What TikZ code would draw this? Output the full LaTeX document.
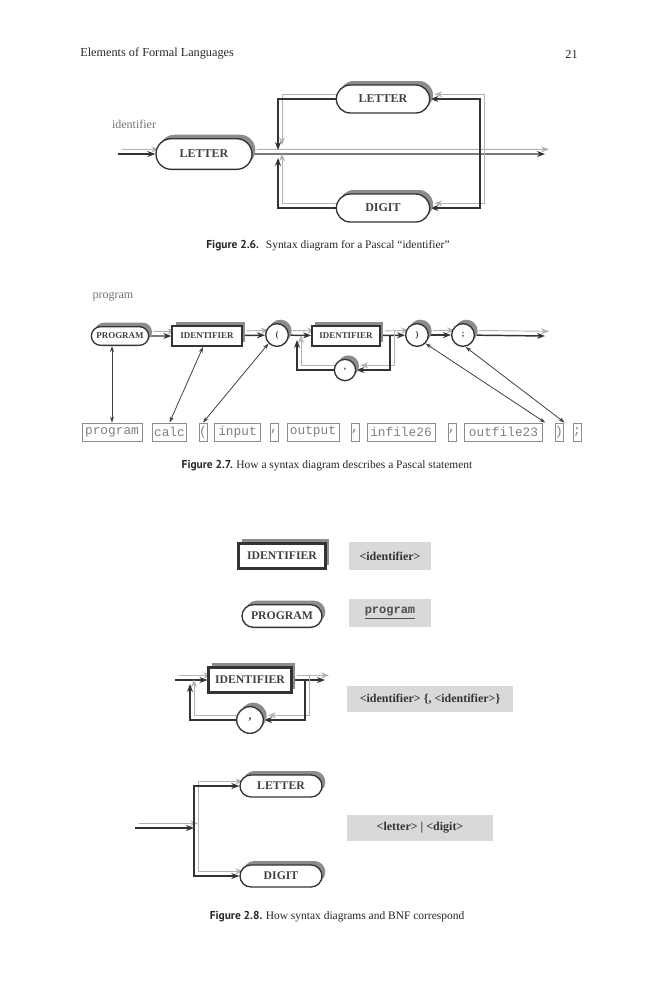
\documentclass[tikz,border=0pt]{standalone}
\usepackage{fontspec}
\setmainfont{Liberation Serif}
\setmonofont{Liberation Mono}
\newfontfamily\capfont{PT Sans}
\usetikzlibrary{shapes.misc, shadows, arrows.meta, backgrounds}

\tikzset{
  lbl/.style={font=\bfseries\fontsize{#1}{#1}\selectfont, text=black!75},
  shd/.style={drop shadow={shadow xshift=2.5pt, shadow yshift=3pt, fill=black!45, opacity=1}},
  rnd/.style={rounded rectangle, draw=black!80, line width=1pt, fill=white, shd, inner sep=0pt},
  idbox/.style={rectangle, draw=black!80, line width=1.8pt, fill=white, shd, inner sep=0pt},
  crc/.style={circle, draw=black!80, line width=1pt, fill=white, shd, inner sep=0pt},
  codebox/.style={rectangle, draw=black!45, line width=0.6pt, text=black!50,
    font=\ttfamily\fontsize{9.6}{10}\selectfont, minimum height=13.5pt, inner sep=0pt},
  bnf/.style={rectangle, fill=black!15, inner sep=0pt, font=\bfseries\fontsize{9}{10}\selectfont, text=black!80},
  ln/.style={draw=black!80, line width=1.1pt, -{Stealth[length=6pt, width=4.5pt]},
    preaction={draw=black!30, line width=0.7pt, transform canvas={xshift=3pt, yshift=3.5pt}}},
  ptr/.style={draw=black!75, line width=0.6pt, {Stealth[length=4.5pt, width=3pt]}-{Stealth[length=4.5pt, width=3pt]}},
  captext/.style={font=\fontsize{8.6}{10}\selectfont, text=black!85, inner sep=0pt},
}

\begin{document}
\begin{tikzpicture}[x=0.75pt, y=-0.75pt]
  \useasboundingbox (0,0) rectangle (659,1000);

  % running head
  \node[captext, anchor=west, font=\fontsize{9.2}{10}\selectfont] (head) at (80,54) {Elements of Formal Languages};
  \node[captext, anchor=east, font=\fontsize{9.2}{10}\selectfont] (page) at (578,54) {21};

  % ---- Figure 2.6
  \node[captext, text=black!55, font=\fontsize{9}{10}\selectfont] (idlab) at (134,124) {identifier};
  \node[rnd, lbl=9, minimum width=72pt, minimum height=23pt] (let1) at (204,154) {LETTER};
  \node[rnd, lbl=9, minimum width=70pt, minimum height=21pt] (let2) at (383,99) {LETTER};
  \node[rnd, lbl=9, minimum width=70pt, minimum height=21pt] (dig1) at (383,208) {DIGIT};
  \coordinate (in1) at (118,154);
  \coordinate (out1) at (545,154);
  \coordinate (jr1) at (480,154);
  \coordinate (jt1) at (278,150);
  \coordinate (jb1) at (278,158);
  \begin{pgfonlayer}{background}
    \draw[ln] (in1) -- (let1);
    \draw[ln] (let1) -- (out1);
    \draw[ln] (jr1) |- (let2);
    \draw[ln] (jr1) |- (dig1);
    \draw[ln] (let2) -| (jt1);
    \draw[ln] (dig1) -| (jb1);
  \end{pgfonlayer}
  \node[captext] (cap1) at (328,246) {{\capfont\bfseries Figure 2.6.}\hspace{0.6em}Syntax diagram for a Pascal “identifier”};

  % ---- Figure 2.7
  \node[captext, text=black!55, font=\fontsize{9}{10}\selectfont] (pglab) at (113,297) {program};
  \node[rnd, lbl=6.7, minimum width=43pt, minimum height=14pt] (pgm) at (120,336) {PROGRAM};
  \node[idbox, lbl=6.7, line width=1.4pt, minimum width=52pt, minimum height=15pt] (id1) at (207,336) {IDENTIFIER};
  \node[crc, lbl=6.7, minimum size=17pt] (lp) at (277,335) {(};
  \node[idbox, lbl=6.7, line width=1.4pt, minimum width=51pt, minimum height=15pt] (id2) at (346,336) {IDENTIFIER};
  \node[crc, lbl=6.7, minimum size=16pt] (cm1) at (345,370) {,};
  \node[crc, lbl=6.7, minimum size=17pt] (rp) at (417,335) {)};
  \node[crc, lbl=6.7, minimum size=17pt] (sc) at (463,335) {;};
  \coordinate (out2) at (545,336);
  \coordinate (lr2) at (390,336);
  \coordinate (ll2) at (297,340);
  \begin{pgfonlayer}{background}
    \draw[ln] (pgm) -- (id1);
    \draw[ln] (id1) -- (lp);
    \draw[ln] (lp) -- (id2);
    \draw[ln] (id2) -- (rp);
    \draw[ln] (rp) -- (sc);
    \draw[ln] (sc) -- (out2);
    \draw[ln] (lr2) |- (cm1);
    \draw[ln] (cm1) -| (ll2);
  \end{pgfonlayer}

  % the statement
  \node[codebox, minimum width=45pt] (cpgm) at (112,432) {program};
  \node[codebox, minimum width=26pt] (ccalc) at (169.5,432) {calc};
  \node[codebox, minimum width=6pt] (clp) at (203,432) {(};
  \node[codebox, minimum width=34pt] (cin) at (237.5,432) {input};
  \node[codebox, minimum width=6pt] (cc1) at (274,432) {,};
  \node[codebox, minimum width=39pt] (cout) at (313,432) {output};
  \node[codebox, minimum width=6pt] (cc2) at (355,432) {,};
  \node[codebox, minimum width=51pt] (cinf) at (401,432) {infile26};
  \node[codebox, minimum width=6pt] (cc3) at (452,432) {,};
  \node[codebox, minimum width=59pt] (coutf) at (503.5,432) {outfile23};
  \node[codebox, minimum width=6pt] (crp) at (559,432) {)};
  \node[codebox, minimum width=6pt] (csc) at (577,432) {;};

  \draw[ptr] (cpgm.north) -- (cpgm.north |- pgm.south);
  \draw[ptr] ([xshift=-3pt]id1.south) -- (ccalc.north);
  \draw[ptr] (lp.south west) -- (clp.north);
  \draw[ptr] (rp.south east) -- ([xshift=-7pt]crp.north west);
  \draw[ptr] ([xshift=2pt]sc.south) -- ([xshift=-6pt]csc.north west);
  \node[captext] (cap2) at (327,466) {{\capfont\bfseries Figure 2.7.}\hspace{0.3em}How a syntax diagram describes a Pascal statement};

  % ---- Figure 2.8
  \node[idbox, lbl=8.8, line width=1.8pt, minimum width=65pt, minimum height=19pt] (id3) at (282,556) {IDENTIFIER};
  \node[bnf, minimum width=62pt, minimum height=21pt] (b1) at (390,556) {<identifier>};
  \node[rnd, lbl=8.8, minimum width=60pt, minimum height=17pt] (pgm2) at (282,616) {PROGRAM};
  \node[bnf, minimum width=62pt, minimum height=21pt, font=\ttfamily\bfseries\fontsize{9}{10}\selectfont, text=black!70] (b2) at (390,613) {\underline{program}};

  \node[idbox, lbl=8.8, line width=1.8pt, minimum width=62pt, minimum height=19pt] (id4) at (250,680) {IDENTIFIER};
  \node[crc, lbl=8.8, minimum size=20pt] (cm2) at (250,720) {,};
  \coordinate (in3) at (175,680);
  \coordinate (out3) at (325,680);
  \coordinate (lr3) at (305,680);
  \coordinate (ll3) at (190,684);
  \begin{pgfonlayer}{background}
    \draw[ln] (in3) -- (id4);
    \draw[ln] (id4) -- (out3);
    \draw[ln] (lr3) |- (cm2);
    \draw[ln] (cm2) -| (ll3);
  \end{pgfonlayer}
  \node[bnf, minimum width=124pt, minimum height=19.5pt] (b3) at (430,699) {<identifier> \{, <identifier>\}};

  \node[rnd, lbl=8.8, minimum width=61.5pt, minimum height=16.5pt] (let3) at (281,786) {LETTER};
  \node[rnd, lbl=8.8, minimum width=61.5pt, minimum height=16.5pt] (dig3) at (281,876) {DIGIT};
  \coordinate (in4) at (135,828);
  \coordinate (jn4) at (194,828);
  \begin{pgfonlayer}{background}
    \draw[ln] (in4) -- (jn4);
    \draw[ln] (jn4) |- (let3);
    \draw[ln] (jn4) |- (dig3);
  \end{pgfonlayer}
  \node[bnf, minimum width=109pt, minimum height=20pt] (b4) at (420,828) {<letter> | <digit>};
  \node[captext] (cap3) at (337,917) {{\capfont\bfseries Figure 2.8.}\hspace{0.3em}How syntax diagrams and BNF correspond};
\end{tikzpicture}
\end{document}
